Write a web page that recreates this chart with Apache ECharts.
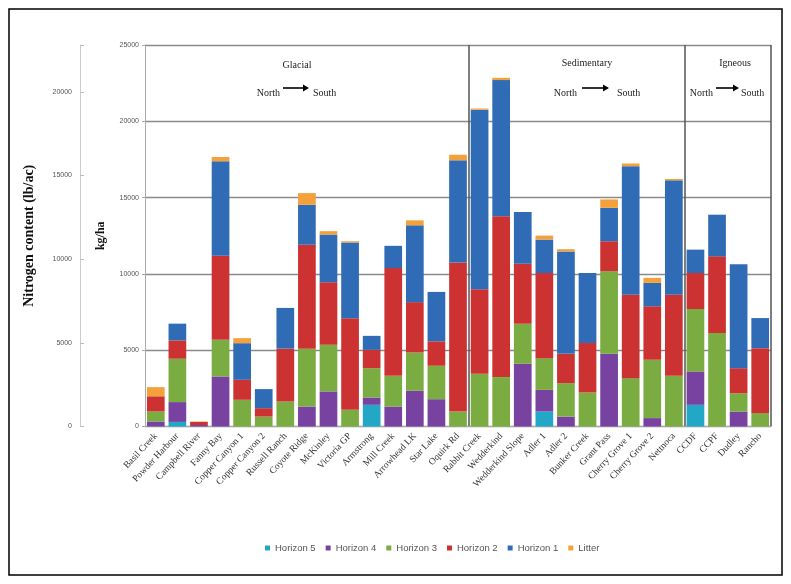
<!DOCTYPE html>
<html>
<head>
<meta charset="utf-8">
<script src="https://cdn.jsdelivr.net/npm/echarts@6/dist/echarts.min.js"></script>
<style>html,body{margin:0;padding:0;background:#fff;}#c{width:791px;height:584px;}</style>
</head>
<body>
<div id="c"></div>
<script>
const categories = ["Basil Creek","Powder Harbour","Campbell River","Fanny Bay","Copper Canyon 1","Copper Canyon 2","Russell Ranch","Coyote Ridge","McKinley","Victoria GP","Armstrong","Mill Creek","Arrowhead LK","Star Lake","Oquirk Rd","Rabbit Creek","Wedderkind","Wedderkind Slope","Adler 1","Adler 2","Bunker Creek","Grant Pass","Cherry Grove 1","Cherry Grove 2","Nettnoca","CCDF","CCPF","Dudley","Rancho"];
const horizon5 = [0,300,0,0,0,0,0,0,0,0,1420,0,0,0,0,0,0,0,980,0,0,0,0,0,0,1420,0,0,0];
const horizon4 = [330,1300,100,3280,0,0,0,1310,2300,0,480,1310,2340,1790,0,0,0,4110,1420,650,0,4770,0,550,0,2190,0,980,0];
const horizon3 = [650,2840,0,2400,1750,650,1640,3780,3060,1090,1920,2010,2510,2190,980,3450,3240,2620,2080,2190,2230,5400,3170,3830,3320,4090,6120,1200,875];
const horizon2 = [1000,1200,200,5510,1310,550,3460,6820,4090,6010,1200,7060,3300,1600,9770,5550,10540,3940,5580,1920,3240,1970,5470,3500,5310,2360,5030,1640,4260];
const horizon1 = [0,1100,0,6190,2400,1250,2670,2620,3130,4960,920,1460,5030,3240,6690,11760,8920,3390,2190,6710,4590,2190,8420,1530,7500,1530,2730,6820,1970];
const litter = [600,0,30,280,330,0,0,765,220,80,0,0,330,0,370,80,150,0,260,150,0,550,175,330,90,0,0,0,0];
const kgTicks = [0,5000,10000,15000,20000,25000];
const lbTicks = [0,5000,10000,15000,20000];

const seriesDefs = [
  {name:'Horizon 5', data:horizon5, color:'#22a7c6'},
  {name:'Horizon 4', data:horizon4, color:'#7843a0'},
  {name:'Horizon 3', data:horizon3, color:'#7aac41'},
  {name:'Horizon 2', data:horizon2, color:'#cc3231'},
  {name:'Horizon 1', data:horizon1, color:'#2f6cb5'},
  {name:'Litter', data:litter, color:'#f5a13b'}
];

const serif = 'Liberation Serif';
const sans = 'Liberation Sans';

function arrowGroup(cx, titleY, title, northEnd, a1, a2, southStart) {
  const y = 93, ay = 88;
  return [
    {type:'text', style:{text:title, x:cx, y:titleY, align:'center', verticalAlign:'middle', font:'10px "Liberation Serif"', fill:'#222'}},
    {type:'text', style:{text:'North', x:northEnd, y:y, align:'right', verticalAlign:'middle', font:'10px "Liberation Serif"', fill:'#222'}},
    {type:'line', shape:{x1:a1, y1:ay, x2:a2-5, y2:ay}, style:{stroke:'#000', lineWidth:1.6}},
    {type:'polygon', shape:{points:[[a2-6,ay-3.5],[a2,ay],[a2-6,ay+3.5]]}, style:{fill:'#000'}},
    {type:'text', style:{text:'South', x:southStart, y:y, align:'left', verticalAlign:'middle', font:'10px "Liberation Serif"', fill:'#222'}}
  ];
}

const chart = echarts.init(document.getElementById('c'));
chart.setOption({
  backgroundColor:'#fff',
  animation:false,
  grid:{left:145, right:20, top:45, bottom:157.5},
  legend:{
    data: seriesDefs.map(s=>s.name),
    top: 538, left: 260,
    itemWidth:5, itemHeight:5, itemGap:10,
    icon:'rect',
    textStyle:{fontFamily:sans, fontSize:9.5, color:'#555'}
  },
  xAxis:{
    type:'category',
    data:categories,
    axisLine:{show:true, lineStyle:{color:'#aaa'}},
    axisTick:{show:false},
    axisLabel:{interval:0, rotate:47, fontFamily:serif, fontSize:9.5, color:'#333', margin:8},
    splitLine:{show:true, interval:function(i){return i===15 || i===25;}, lineStyle:{color:'#555', width:1.5}}
  },
  yAxis:[
    {
      type:'value', min:kgTicks[0], max:kgTicks[kgTicks.length-1], interval:5000,
      name:'kg/ha', nameLocation:'middle', nameGap:38,
      nameTextStyle:{fontFamily:serif, fontWeight:'bold', fontSize:12, color:'#111'},
      axisLine:{show:true, lineStyle:{color:'#aaa'}},
      axisTick:{show:true, length:3, lineStyle:{color:'#aaa'}},
      axisLabel:{fontFamily:sans, fontSize:7, color:'#555', margin:6,
        formatter:function(v){return String(v);}},
      splitLine:{show:true, lineStyle:{color:'#8a8a8a', width:1.3}}
    },
    {
      type:'value', position:'left', offset:65, min:lbTicks[0], max:22800, interval:5000,
      name:'Nitrogen content (lb/ac)', nameLocation:'middle', nameGap:44,
      nameTextStyle:{fontFamily:serif, fontWeight:'bold', fontSize:14, color:'#111'},
      axisLine:{show:true, lineStyle:{color:'#ccc'}},
      axisTick:{show:true, inside:true, length:4, lineStyle:{color:'#bbb'}},
      axisLabel:{fontFamily:sans, fontSize:7, color:'#555', margin:8,
        formatter:function(v){return lbTicks.indexOf(v)>=0 ? String(v) : '';}},
      splitLine:{show:false}
    }
  ],
  series: seriesDefs.map(s=>({
    name:s.name, type:'bar', stack:'total', data:s.data, yAxisIndex:0,
    barCategoryGap:'18%', itemStyle:{color:s.color}
  })),
  graphic:[
    {type:'rect', z:-1, shape:{x:9, y:9, width:773, height:566}, style:{fill:'none', stroke:'#000', lineWidth:1.5}}
  ].concat(
    arrowGroup(297, 65, 'Glacial', 280, 283, 309, 313),
    arrowGroup(587, 63, 'Sedimentary', 577, 582, 609, 617),
    arrowGroup(735, 63, 'Igneous', 713, 716, 739, 741)
  )
});
</script>
</body>
</html>
